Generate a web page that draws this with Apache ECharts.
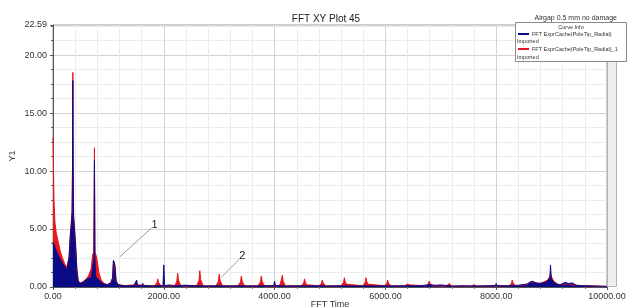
<!DOCTYPE html>
<html>
<head>
<meta charset="utf-8">
<script src="https://cdn.jsdelivr.net/npm/echarts@6/dist/echarts.min.js"></script>
<style>
  html, body { margin: 0; padding: 0; background: #fff; }
  #chart { width: 631px; height: 307px; }
</style>
</head>
<body>
<div id="chart"></div>
<script>
const chartTitle = 'FFT XY Plot 45'
const chartNote = 'Airgap 0.5 mm no damage'
const seriesNames = ['FFT ExprCache(PoleTip_Radial)', 'FFT ExprCache(PoleTip_Radial)_1']
const xRange = [0, 10000]
const yRange = [0, 22.59]

// [time, amplitude]
const blueSeries = [
  [0, 3.9], [30, 3.5], [60, 3.1], [100, 2.7], [140, 2.3], [180, 2.0], [220, 1.7], [250, 1.5],
  [270, 1.5], [290, 2.5], [310, 4.2], [330, 5.4], [345, 6.4], [352, 10.0], [358, 17.8], [364, 10.0],
  [372, 6.0], [390, 4.8], [410, 3.4], [430, 1.5], [455, 0.5], [490, 0.3], [540, 0.4], [590, 0.6],
  [640, 0.75], [690, 0.8], [725, 0.9], [740, 2.5], [748, 10.9], [756, 2.4], [770, 0.9], [810, 0.7],
  [860, 0.45], [920, 0.25], [980, 0.2], [1040, 0.35], [1075, 0.8], [1090, 2.3], [1105, 2.4], [1120, 1.8],
  [1140, 0.5], [1180, 0.2], [1250, 0.12], [1350, 0.1], [1460, 0.12], [1495, 0.15], [1510, 0.6], [1525, 0.15],
  [1600, 0.12], [1620, 0.3], [1640, 0.12], [1750, 0.1], [1850, 0.1], [1985, 0.12], [2000, 1.9], [2015, 0.12],
  [2100, 0.18], [2200, 0.1], [2360, 0.15], [2380, 0.3], [2400, 0.15], [2600, 0.1], [2800, 0.08], [3000, 0.1],
  [3200, 0.08], [3400, 0.1], [3600, 0.08], [3800, 0.1], [3985, 0.12], [4000, 0.5], [4015, 0.12], [4200, 0.08],
  [4400, 0.1], [4600, 0.08], [4800, 0.1], [5000, 0.08], [5200, 0.1], [5400, 0.08], [5600, 0.1], [5800, 0.08],
  [6000, 0.1], [6200, 0.08], [6400, 0.1], [6600, 0.1], [6800, 0.2], [6900, 0.15], [7000, 0.18], [7200, 0.08],
  [7400, 0.1], [7600, 0.08], [7800, 0.1], [7985, 0.12], [8000, 0.3], [8015, 0.12], [8200, 0.1], [8400, 0.15],
  [8550, 0.25], [8650, 0.5], [8750, 0.3], [8900, 0.4], [8970, 0.8], [8980, 1.9], [8995, 0.7], [9060, 0.3],
  [9150, 0.2], [9250, 0.4], [9300, 0.3], [9370, 0.35], [9450, 0.15], [9600, 0.1], [9800, 0.08], [10000, 0.05]
]

const redSeries = [
  [0, 12.9], [8, 10.5], [18, 7.5], [35, 5.6], [60, 4.6], [90, 4.0], [130, 3.1], [170, 2.5],
  [210, 2.0], [250, 1.7], [270, 1.7], [290, 2.6], [310, 4.4], [330, 5.6], [345, 6.6], [352, 10.5],
  [358, 18.5], [364, 10.5], [372, 6.2], [390, 5.0], [410, 3.5], [430, 1.6], [455, 0.55], [490, 0.35],
  [540, 0.45], [590, 0.65], [640, 0.95], [690, 1.6], [715, 2.8], [735, 3.0], [748, 12.0], [758, 3.0],
  [780, 2.7], [800, 2.2], [830, 1.2], [870, 0.6], [920, 0.3], [980, 0.22], [1040, 0.35], [1075, 0.7],
  [1090, 2.0], [1105, 2.2], [1120, 1.6], [1140, 0.45], [1180, 0.2], [1300, 0.12], [1500, 0.2], [1700, 0.12],
  [1830, 0.1], [1855, 0.25], [1875, 0.35], [1890, 0.7], [1905, 0.4], [1925, 0.3], [1950, 0.1],
  [2190, 0.1], [2215, 0.3], [2235, 0.5], [2250, 1.2], [2265, 0.6], [2285, 0.35], [2310, 0.1],
  [2590, 0.1], [2615, 0.35], [2635, 0.55], [2650, 1.4], [2665, 0.65], [2685, 0.4], [2710, 0.1],
  [2940, 0.1], [2965, 0.3], [2985, 0.5], [3000, 1.1], [3015, 0.6], [3035, 0.35], [3060, 0.1],
  [3340, 0.1], [3365, 0.25], [3385, 0.45], [3400, 0.95], [3415, 0.5], [3435, 0.3], [3460, 0.1],
  [3700, 0.1], [3725, 0.25], [3745, 0.45], [3760, 0.95], [3775, 0.5], [3795, 0.3], [3820, 0.1],
  [4080, 0.1], [4105, 0.3], [4125, 0.45], [4140, 1.0], [4155, 0.5], [4175, 0.3], [4200, 0.1],
  [4480, 0.1], [4505, 0.2], [4525, 0.35], [4540, 0.7], [4555, 0.4], [4575, 0.2], [4600, 0.1],
  [4800, 0.1], [4825, 0.2], [4845, 0.3], [4860, 0.6], [4875, 0.35], [4895, 0.2], [4920, 0.1],
  [5200, 0.1], [5225, 0.25], [5245, 0.4], [5260, 0.8], [5275, 0.45], [5295, 0.25], [5320, 0.1],
  [5590, 0.1], [5615, 0.25], [5635, 0.4], [5650, 0.8], [5665, 0.45], [5685, 0.25], [5710, 0.1],
  [5980, 0.1], [6005, 0.2], [6025, 0.3], [6040, 0.6], [6055, 0.35], [6075, 0.2], [6100, 0.1],
  [6350, 0.1], [6375, 0.18], [6395, 0.25], [6410, 0.4], [6425, 0.28], [6445, 0.18], [6470, 0.1],
  [6730, 0.1], [6755, 0.2], [6775, 0.3], [6790, 0.5], [6805, 0.3], [6825, 0.2], [6850, 0.1],
  [7100, 0.08], [7130, 0.18], [7150, 0.3], [7170, 0.18], [7200, 0.08],
  [7550, 0.08], [7580, 0.14], [7600, 0.2], [7620, 0.14], [7650, 0.08],
  [8230, 0.1], [8255, 0.2], [8275, 0.3], [8290, 0.6], [8305, 0.35], [8325, 0.2], [8350, 0.1],
  [8560, 0.2], [8620, 0.45], [8650, 0.6], [8680, 0.4], [8800, 0.3],
  [8930, 0.6], [8965, 0.9], [8980, 1.2], [8995, 0.9], [9040, 0.5], [9120, 0.2],
  [9260, 0.25], [9300, 0.3], [9340, 0.2], [9500, 0.12], [9700, 0.1], [10000, 0.05]
]

// leader lines: [from, to, label]
const annotations = [
  [[1206, 2.6], [1782, 5.1], '1'],
  [[3042, 0.86], [3366, 2.4], '2']
]

const chart = echarts.init(document.getElementById('chart'))

const fontFamily = '"Liberation Sans", Arial, sans-serif'
const axisText = { color: '#333', fontSize: 9, fontFamily }

const option = {
  animation: false,
  textStyle: { fontFamily },
  title: [
    {
      text: chartTitle,
      left: 321,
      top: 9,
      textAlign: 'center',
      textStyle: { fontSize: 10, fontWeight: 'normal', color: '#222', fontFamily },
    },
    {
      text: chartNote,
      right: 9,
      top: 10,
      textStyle: { fontSize: 7, fontWeight: 'normal', color: '#333', fontFamily },
    },
  ],
  grid: {
    left: 53,
    right: 24,
    top: 25,
    bottom: 20,
    outerBoundsMode: 'none',
    containLabel: false,
    show: true,
    borderColor: '#9a9a9a',
    borderWidth: 1,
  },
  legend: {
    orient: 'vertical',
    left: 518,
    top: 31,
    padding: 0,
    itemWidth: 11,
    itemHeight: 2,
    itemGap: 9,
    icon: 'rect',
    data: seriesNames,
    textStyle: { fontSize: 5.5, color: '#333', fontFamily, padding: [0, 0, 0, -2] },
    z: 20,
  },
  xAxis: {
    type: 'value',
    min: xRange[0],
    max: xRange[1],
    interval: 2000,
    name: 'FFT Time',
    nameLocation: 'middle',
    nameGap: 13,
    nameMoveOverlap: false,
    nameTextStyle: { fontSize: 9, color: '#333', verticalAlign: 'top' },
    axisLine: { show: true, onZero: false, lineStyle: { color: '#555' } },
    axisTick: { show: true, length: 3, lineStyle: { color: '#555' } },
    minorTick: { show: true, splitNumber: 5, length: 2, lineStyle: { color: '#777' } },
    axisLabel: { ...axisText, margin: 5, formatter: (v) => v.toFixed(2) },
    splitLine: { show: true, lineStyle: { color: '#d4d4d4' } },
    minorSplitLine: { show: true, lineStyle: { color: '#ececec' } },
  },
  yAxis: {
    type: 'value',
    min: yRange[0],
    max: yRange[1],
    interval: 5,
    name: 'Y1',
    nameLocation: 'middle',
    nameGap: 36,
    nameMoveOverlap: false,
    nameTextStyle: { fontSize: 9, color: '#333' },
    axisLine: { show: true, lineStyle: { color: '#556' } },
    axisTick: { show: true, length: 3, lineStyle: { color: '#556' } },
    minorTick: { show: true, splitNumber: 4, length: 2, lineStyle: { color: '#667' } },
    axisLabel: { ...axisText, margin: 6, formatter: (v) => v.toFixed(2) },
    splitLine: { show: true, lineStyle: { color: '#d4d4d4' } },
    minorSplitLine: { show: true, lineStyle: { color: '#ececec' } },
  },
  graphic: [
    // gray strip right of plot
    {
      type: 'rect',
      shape: { x: 607.5, y: 25.5, width: 9, height: 261 },
      style: { fill: '#eeeeee', stroke: '#b4b4b4', lineWidth: 1 },
      z: 5,
    },
    // legend box
    {
      type: 'rect',
      shape: { x: 515.5, y: 22.5, width: 111, height: 39 },
      style: { fill: '#fff', stroke: '#8a8a8a', lineWidth: 1 },
      z: 10,
    },
    {
      type: 'text',
      x: 571,
      y: 24,
      style: { text: 'Curve Info', fontSize: 5.5, fill: '#333', textAlign: 'center', fontFamily },
      z: 11,
    },
    {
      type: 'text',
      x: 517,
      y: 38,
      style: { text: 'Imported', fontSize: 5.5, fill: '#333', fontFamily },
      z: 11,
    },
    {
      type: 'text',
      x: 517,
      y: 54,
      style: { text: 'Imported', fontSize: 5.5, fill: '#333', fontFamily },
      z: 11,
    },
  ],
  series: [
    {
      name: seriesNames[1],
      type: 'line',
      data: redSeries,
      showSymbol: false,
      color: '#e8161e',
      lineStyle: { width: 1 },
      areaStyle: { opacity: 1 },
    },
    {
      name: seriesNames[0],
      type: 'line',
      data: blueSeries,
      showSymbol: false,
      color: '#0b0b86',
      lineStyle: { width: 1 },
      areaStyle: { opacity: 1 },
      markLine: {
        silent: true,
        symbol: 'none',
        lineStyle: { color: '#9a9a9a', width: 1, type: 'solid' },
        label: { position: 'end', fontSize: 11, color: '#222', distance: 4 },
        data: annotations.map(([from, to, text]) => [
          { coord: from },
          { coord: to, label: { formatter: text } },
        ]),
      },
    },
  ],
}

chart.setOption(option)
</script>
</body>
</html>
